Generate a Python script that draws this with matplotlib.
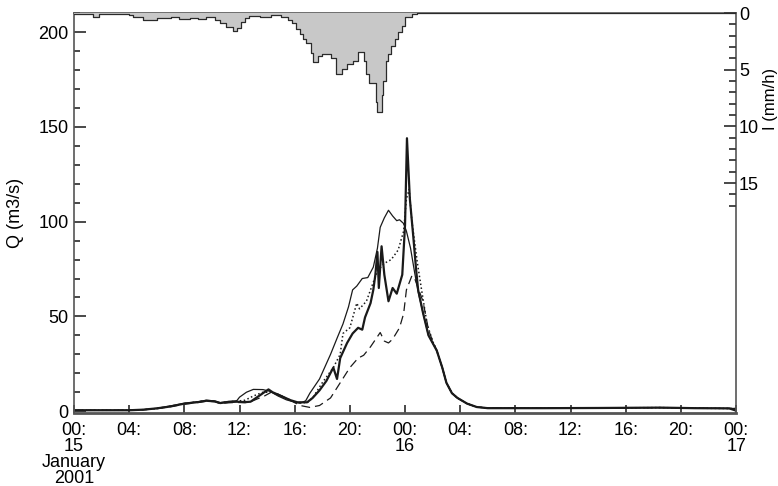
import numpy as np
import matplotlib
matplotlib.use('Agg')
import matplotlib.pyplot as plt
from matplotlib.ticker import MultipleLocator

plt.rcParams['font.family'] = ['Liberation Sans', 'DejaVu Sans']

# hours since 00:00 15 January 2001
tick_hours = [0, 4, 8, 12, 16, 20, 24, 28, 32, 36, 40, 44, 48]
tick_labels = ['00:\n15\nJanuary\n2001', '04:', '08:', '12:', '16:', '20:',
               '00:\n16', '04:', '08:', '12:', '16:', '20:', '00:\n17']

# rainfall intensity (mm/h), step starting at each time
rain = [(0, 0.1), (1.4, 0.3), (1.8, 0.05), (4.0, 0.15), (4.3, 0.35), (5.0, 0.6),
        (6.0, 0.45), (7.0, 0.35), (7.6, 0.5), (8.4, 0.4), (9.0, 0.5), (9.6, 0.35),
        (10.2, 0.6), (10.6, 0.9), (11.0, 1.2), (11.5, 1.6), (11.8, 1.3), (12.1, 0.8),
        (12.4, 0.4), (12.7, 0.25), (13.5, 0.3), (14.3, 0.2), (15.0, 0.35), (15.5, 0.6),
        (15.8, 0.9), (16.1, 1.4), (16.4, 1.8), (16.6, 2.3), (16.8, 2.6), (17.2, 3.5),
        (17.3, 4.3), (17.7, 3.8), (18.0, 3.6), (18.6, 4.0), (19.0, 5.4), (19.4, 4.9),
        (19.8, 4.5), (20.2, 4.2), (20.6, 3.4), (21.0, 4.2), (21.2, 5.4), (21.4, 6.2),
        (21.9, 7.8), (22.0, 8.75), (22.3, 7.2), (22.4, 6.0), (22.6, 4.2), (22.8, 3.6),
        (23.0, 2.9), (23.3, 2.3), (23.5, 1.7), (23.8, 1.1), (24.0, 0.35), (24.5, 0.1),
        (24.9, 0.0), (48, 0.0)]

# discharge (m3/s)
q_obs = [(0, 0.5), (4, 0.5), (5, 0.8), (6, 1.5), (7, 2.5), (8, 4), (9, 4.8), (9.6, 5.5),
         (10.2, 5.2), (10.6, 4.3), (11.2, 4.8), (11.8, 5.0), (12.4, 4.8), (12.8, 5.0),
         (13.5, 8.5), (14.1, 11.5), (14.4, 10), (14.9, 8.4), (15.7, 5.8), (16.2, 4.7),
         (16.9, 4.7), (17.3, 7), (17.8, 11), (18.3, 16), (18.8, 23), (19.07, 17),
         (19.3, 28), (19.8, 36), (20.2, 41), (20.6, 44), (20.9, 43), (21.1, 49.5),
         (21.5, 57), (21.7, 64), (21.85, 72), (22.0, 84), (22.1, 65), (22.3, 87),
         (22.5, 72), (22.8, 58), (23.1, 65), (23.4, 62), (23.8, 72), (24.0, 98),
         (24.14, 144), (24.35, 112), (24.6, 92), (24.8, 75), (24.95, 64), (25.3, 52),
         (25.7, 40), (26.0, 36), (26.3, 32), (26.7, 23), (27.0, 15), (27.4, 9.5),
         (27.8, 7), (28.5, 4), (29.2, 2.2), (30, 1.6), (34, 1.6), (38, 1.7),
         (42.5, 1.9), (45, 1.6), (47.5, 1.5), (48, 0.3)]

q_sim_a = [(0, 0.5), (4, 0.5), (5, 0.8), (6, 1.5), (7, 2.8), (8, 4.2), (9, 5), (9.6, 5.8),
           (10.2, 5.4), (10.6, 4.5), (11.2, 5.2), (11.8, 5.5), (12.0, 7.4), (12.5, 10),
           (13.0, 11.5), (13.7, 11.4), (14.2, 10.5), (14.8, 8), (15.4, 6), (16.0, 4.8),
           (16.4, 4.2), (16.8, 5.5), (17.1, 9.5), (17.8, 17), (18.6, 30), (19.1, 39),
           (19.5, 46), (19.9, 55), (20.2, 64), (20.5, 66), (20.9, 70), (21.3, 70.5),
           (21.7, 76), (22.0, 86), (22.2, 97), (22.5, 102), (22.8, 106), (23.1, 103),
           (23.4, 100.5), (23.6, 101), (23.9, 99), (24.1, 95), (24.4, 86), (24.7, 73),
           (24.95, 63), (25.3, 52), (25.7, 40), (26.0, 36), (26.3, 32), (26.7, 23),
           (27.0, 15), (27.4, 9.5), (27.8, 7), (28.5, 4), (29.2, 2.2), (30, 1.7),
           (34, 1.6), (38, 1.7), (42.5, 1.9), (45, 1.6), (48, 1.4)]

q_sim_b = [(0, 0.5), (4, 0.5), (5, 0.8), (6, 1.4), (7, 2.6), (8, 4), (9, 5), (9.6, 5.6),
           (10.2, 5.2), (10.6, 4.4), (11.2, 5), (11.8, 5.3), (12.4, 5.8), (13.0, 8),
           (13.7, 10), (14.3, 10), (14.9, 8.5), (15.7, 5.8), (16.2, 4.6), (16.9, 4.5),
           (17.3, 7), (18.0, 15), (18.8, 23), (19.3, 30), (19.5, 41), (20.0, 44),
           (20.5, 57), (20.7, 54), (21.2, 58), (21.5, 64), (22.0, 74), (22.5, 78),
           (23.0, 80), (23.5, 85), (23.9, 95), (24.1, 112), (24.3, 117), (24.5, 100),
           (24.9, 78), (25.2, 64), (25.6, 46), (26.0, 37), (26.3, 32), (26.7, 23),
           (27.0, 15), (27.4, 9.5), (27.8, 7), (28.5, 4), (29.2, 2.2), (30, 1.7),
           (34, 1.6), (38, 1.7), (42.5, 1.9), (45, 1.6), (48, 1.4)]

q_sim_c = [(0, 0.5), (4, 0.5), (5, 0.7), (6, 1.3), (7, 2.4), (8, 3.7), (9, 4.6), (9.6, 5.3),
           (10.2, 5), (10.6, 4), (11.2, 4.5), (11.8, 4.6), (12.4, 4.5), (12.8, 5),
           (13.8, 8), (14.3, 10), (14.8, 9), (15.5, 6.5), (16.0, 4.5), (16.4, 3),
           (17.1, 2), (17.8, 3), (18.6, 7), (19.3, 15), (20.0, 23), (20.6, 28),
           (21.0, 29.5), (21.5, 34), (22.2, 41.5), (22.5, 37), (22.8, 36), (23.1, 38),
           (23.6, 44), (23.9, 51.5), (24.1, 64), (24.5, 71.5), (24.7, 70), (24.95, 65),
           (25.3, 58), (25.7, 43), (26.0, 37), (26.3, 32), (26.7, 23), (27.0, 15),
           (27.4, 9.5), (27.8, 7), (28.5, 4), (29.2, 2.2), (30, 1.7), (34, 1.6),
           (38, 1.7), (42.5, 1.9), (45, 1.6), (48, 1.4)]

fig = plt.figure(figsize=(7.78, 4.86), dpi=100)
ax = fig.add_axes([0.0951, 0.150, 0.851, 0.823])

ink = '#1a1a1a'
grey = '#555555'
tickc = '#3a3a3a'
t, q = np.array(q_sim_a).T
ax.plot(t, q, color=ink, lw=0.9)
t, q = np.array(q_sim_b).T
ax.plot(t, q, color=ink, lw=1.1, ls=(0, (1, 1.6)))
t, q = np.array(q_sim_c).T
ax.plot(t, q, color=ink, lw=0.9, ls=(0, (7, 4)))
t, q = np.array(q_obs).T
ax.plot(t, q, color=ink, lw=1.6)

ax.set_xlim(0, 48)
ax.set_ylim(-1, 210)
ax.set_xticks(tick_hours)
ax.set_xticklabels(tick_labels, linespacing=0.92)
ax.yaxis.set_major_locator(MultipleLocator(50))
ax.yaxis.set_minor_locator(MultipleLocator(10))
ax.set_ylabel('Q (m3/s)', fontsize=13)
ax.yaxis.set_label_coords(-0.076, 0.5)

for side in ['left', 'right', 'top']:
    ax.spines[side].set_color(grey)
    ax.spines[side].set_linewidth(1.2)
ax.spines['bottom'].set_color(grey)
ax.spines['bottom'].set_linewidth(2)

# rainfall on inverted right axis
ax2 = ax.twinx()
rt, ri = np.array(rain).T
ax2.fill_between(rt, 0, ri, step='post', color='#c8c8c8', lw=0)
ax2.step(rt, ri, where='post', color='#2a2a2a', lw=0.9)
ax2.set_ylim(35.3, 0)
ax2.set_yticks([0, 5, 10, 15])
ax2.set_yticks(range(1, 18), minor=True)
ax2.set_ylabel('I (mm/h)', fontsize=12)
ax2.yaxis.set_label_coords(1.041, 0.785)
for side in ['left', 'right', 'top', 'bottom']:
    ax2.spines[side].set_visible(False)

# tick styling after twinx so nothing gets reset
ax.tick_params(axis='y', which='major', left=True, direction='in', length=8.5,
               width=1.3, labelsize=13, pad=4, color=tickc)
ax.tick_params(axis='y', which='minor', left=True, direction='in', length=4.5,
               width=1.3, color=tickc)
ax.tick_params(axis='x', which='major', bottom=True, direction='in', length=5.5,
               width=1.3, labelsize=13, pad=6.5, color=tickc)
ax2.tick_params(axis='y', which='major', right=True, direction='in', length=9,
                width=1.3, labelsize=13, pad=2, color=tickc)
ax2.tick_params(axis='y', which='minor', right=True, direction='in', length=5,
                width=1.3, color=tickc)

plt.savefig('out.png', dpi=100)
